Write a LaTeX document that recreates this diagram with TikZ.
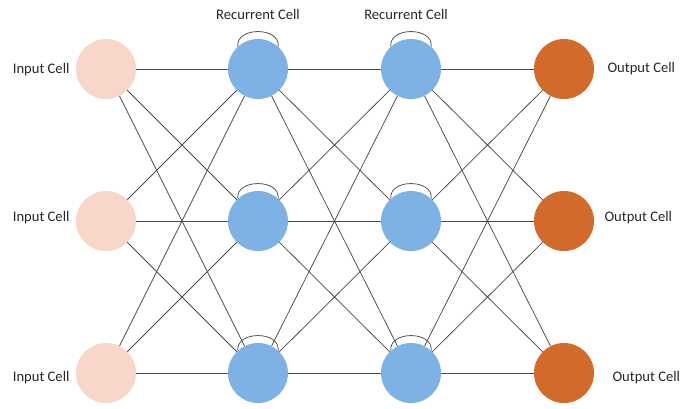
\documentclass[tikz,border=0pt]{standalone}
\usepackage{fontspec}
\setmainfont{Carlito}
\definecolor{incell}{RGB}{248,214,202}
\definecolor{reccell}{RGB}{126,178,228}
\definecolor{outcell}{RGB}{209,106,42}
\definecolor{wire}{RGB}{75,75,75}
\tikzset{
  cell/.style={circle, minimum size=60pt, inner sep=0pt},
  link/.style={wire, line width=0.75pt},
  lbl/.style={font=\fontsize{14.6}{17}\selectfont, text=black!85}
}
\begin{document}
\begin{tikzpicture}[x=1pt, y=1pt]
            \useasboundingbox (0, 0) rectangle (699, 409);

            % cells, column by column
            \foreach \r/\y in {1/340, 2/188, 3/36} {
                \node[cell, fill=incell]  (in\r)   at (106, \y) {};
                \node[cell, fill=reccell] (reca\r) at (258, \y) {};
                \node[cell, fill=reccell] (recb\r) at (411, \y) {};
                \node[cell, fill=outcell] (out\r)  at (564, \y) {};
            }

            % every cell of one column to every cell of the next
            \foreach \i in {1, 2, 3} {
                \foreach \j in {1, 2, 3} {
                    \draw[link] (in\i) -- (reca\j);
                    \draw[link] (reca\i) -- (recb\j);
                    \draw[link] (recb\i) -- (out\j);
                }
            }

            % self loops
            \foreach \r in {1, 2, 3} {
                \draw[link] (reca\r.132) .. controls +(-2, 20) and +(2, 20) .. (reca\r.48);
                \draw[link] (recb\r.132) .. controls +(-2, 20) and +(2, 20) .. (recb\r.48);
            }

            % labels
            \node[lbl, anchor=east] (inlbl1) at (73, 339) {Input Cell};
            \node[lbl, anchor=east] (inlbl2) at (73, 191) {Input Cell};
            \node[lbl, anchor=east] (inlbl3) at (73, 31) {Input Cell};
            \node[lbl, anchor=west] (outlbl1) at (604, 340) {Output Cell};
            \node[lbl, anchor=west] (outlbl2) at (601, 191) {Output Cell};
            \node[lbl, anchor=west] (outlbl3) at (609, 31) {Output Cell};
            \node[lbl] (reclbl1) at (258, 395) {Recurrent Cell};
            \node[lbl] (reclbl2) at (406, 395) {Recurrent Cell};

        \end{tikzpicture}
\end{document}
